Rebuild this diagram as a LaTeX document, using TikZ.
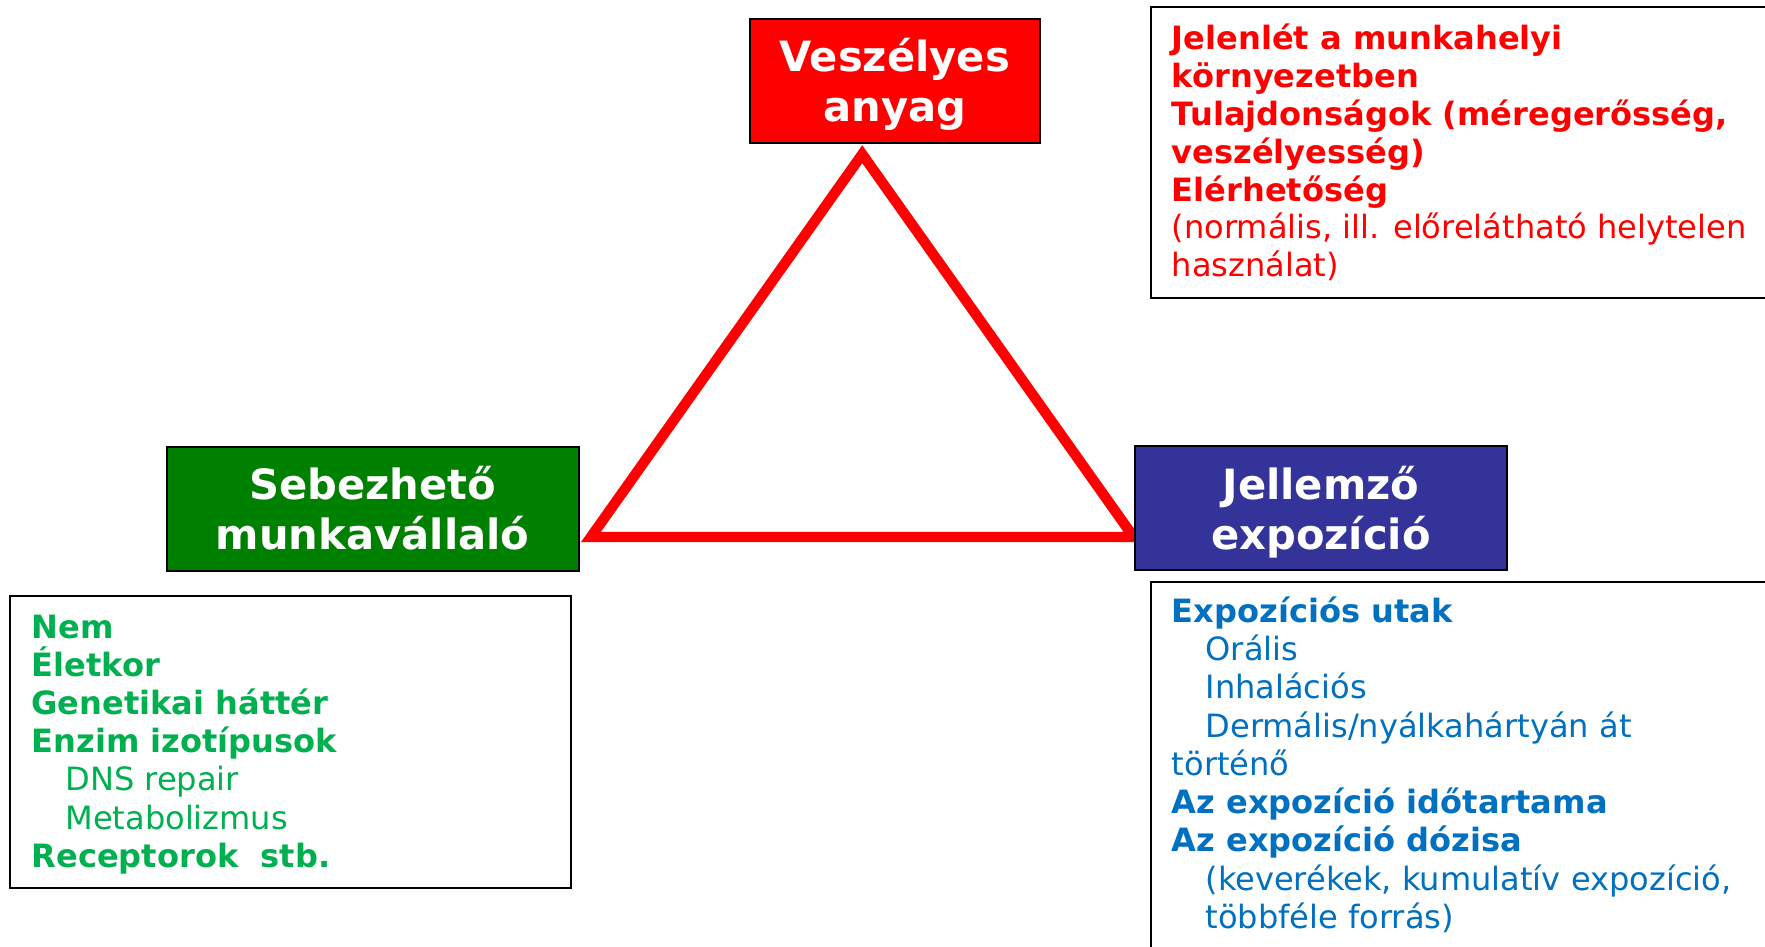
\documentclass[tikz,border=0pt]{standalone}
\usepackage{fontspec}
\setmainfont{DejaVu Sans}
\definecolor{boxred}{HTML}{FF0000}
\definecolor{boxgreen}{HTML}{008000}
\definecolor{boxblue}{HTML}{333399}
\definecolor{txtred}{HTML}{FF0000}
\definecolor{txtgreen}{HTML}{00B050}
\definecolor{txtblue}{HTML}{0070C0}
\newcommand\ttlfnt{\fontsize{37}{44}\selectfont\bfseries}
\newcommand\bdyfnt{\fontsize{28.5}{34}\selectfont}
\tikzset{
  bigbox/.style={draw=black, line width=1.8pt, inner sep=0pt, outer sep=0pt, anchor=north west},
  infobox/.style={draw=black, line width=1.8pt, fill=white, inner sep=0pt, outer sep=0pt, anchor=north west},
  ttl/.style={text=white, font=\ttlfnt, inner sep=0pt, anchor=base},
  ln/.style={inner sep=0pt, anchor=base west, font=\bdyfnt},
  lnb/.style={ln, font=\bdyfnt\bfseries},
  tri/.style={draw=boxred, line width=9.2pt, line join=miter, miter limit=10}
}
\begin{document}
\begin{tikzpicture}[x=1pt,y=-1pt]
\useasboundingbox (0,0) rectangle (1568,841);
\clip (0,0) rectangle (1568,841);
% triangle
\coordinate (apex) at (766,137);
\coordinate (tl) at (525,477);
\coordinate (tr) at (1007,477);
\draw[tri] (apex) -- (tr) -- (tl) -- cycle;
% main boxes
\node[bigbox, fill=boxred, minimum width=258pt, minimum height=110pt] (haz) at (666,17) {};
\node[ttl] (hazA) at (795,63.7) {Veszélyes};
\node[ttl] (hazB) at (795,108) {anyag};
\node[bigbox, fill=boxgreen, minimum width=366pt, minimum height=110pt] (wrk) at (148,397) {};
\node[ttl] (wrkA) at (331,443.7) {Sebezhető};
\node[ttl] (wrkB) at (331,488) {munkavállaló};
\node[bigbox, fill=boxblue, minimum width=331pt, minimum height=110pt] (exp) at (1008,396.5) {};
\node[ttl] (expA) at (1173.5,443.7) {Jellemző};
\node[ttl] (expB) at (1173.5,488) {expozíció};
% info box: top right (red)
\node[infobox, minimum width=600pt, minimum height=258.5pt] (ibr) at (1022.5,6.5) {};
\begin{scope}[every node/.append style={text=txtred}]
\node[lnb] (r1) at (1040.8,43.8) {Jelenlét a munkahelyi};
\node[lnb] (r2) at (1040.8,77.5) {környezetben};
\node[lnb] (r3) at (1040.8,111.2) {Tulajdonságok (méregerősség,};
\node[lnb] (r4) at (1040.8,144.9) {veszélyesség)};
\node[lnb] (r5) at (1040.8,178.6) {Elérhetőség};
\node[ln] (r6) at (1040.8,212.3) {(normális, ill. előrelátható helytelen};
\node[ln] (r7) at (1040.8,246) {használat)};
\end{scope}
% info box: bottom right (blue)
\node[infobox, minimum width=600pt, minimum height=400pt] (ibb) at (1022.5,516.7) {};
\begin{scope}[every node/.append style={text=txtblue}]
\node[lnb] (b1) at (1040.8,552.8) {Expozíciós utak};
\node[ln] (b2) at (1070.8,586.8) {Orális};
\node[ln] (b3) at (1070.8,620.8) {Inhalációs};
\node[ln] (b4) at (1070.8,654.8) {Dermális/nyálkahártyán át};
\node[ln] (b5) at (1040.8,688.8) {történő};
\node[lnb] (b6) at (1040.8,722.8) {Az expozíció időtartama};
\node[lnb] (b7) at (1040.8,756.8) {Az expozíció dózisa};
\node[ln] (b8) at (1070.8,790.8) {(keverékek, kumulatív expozíció,};
\node[ln] (b9) at (1070.8,824.8) {többféle forrás)};
\end{scope}
% info box: bottom left (green)
\node[infobox, minimum width=497.8pt, minimum height=259.4pt] (ibg) at (9.2,529.4) {};
\begin{scope}[every node/.append style={text=txtgreen}]
\node[lnb] (g1) at (27.9,567) {Nem};
\node[lnb] (g2) at (27.9,600.9) {Életkor};
\node[lnb] (g3) at (27.9,634.8) {Genetikai háttér};
\node[lnb] (g4) at (27.9,668.7) {Enzim izotípusok};
\node[ln] (g5) at (57.9,702.6) {DNS repair};
\node[ln] (g6) at (57.9,736.5) {Metabolizmus};
\node[lnb] (g7) at (27.9,770.4) {Receptorok~ stb.};
\end{scope}
\end{tikzpicture}
\end{document}
